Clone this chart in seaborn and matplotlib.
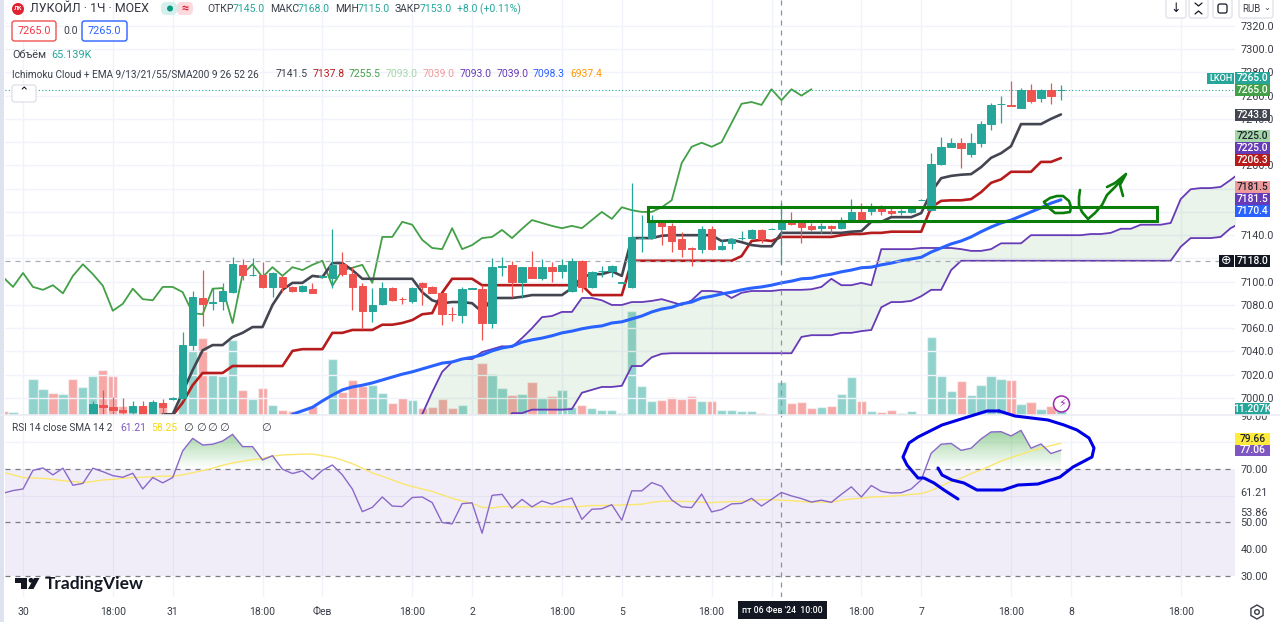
import numpy as np
import pandas as pd
import matplotlib
matplotlib.use('Agg')
import matplotlib.pyplot as plt
import seaborn as sns
from matplotlib.colors import LinearSegmentedColormap
from matplotlib.patches import Circle, FancyBboxPatch, PathPatch, Polygon, Rectangle
from matplotlib.path import Path

# hourly bars, index 0 is the bar under the "30" tick
opens = [6975, 6960, 6962, 6965, 6970, 6978, 6972, 6978, 6970,
         6977, 6994, 6992, 6990, 6988, 6993, 6985, 6996, 6999.5, 7000, 7046, 7086, 7082, 7083.5, 7091, 7114.5, 7105.5,
         7106, 7095.5, 7104, 7095.5, 7092, 7094, 7104, 7103, 7115, 7106.5, 7096.5, 7075, 7081, 7094.5, 7085.5, 7083.5,
         7099, 7095.5, 7090, 7072.5, 7071.5, 7094, 7093.5, 7064.5, 7113, 7114.5, 7100, 7112.5, 7103, 7112.5, 7109, 7092,
         7118, 7095.5, 7109, 7109, 7099, 7095.5, 7137.5, 7137.5, 7151, 7148, 7137, 7129, 7128, 7145, 7128, 7133, 7137.5,
         7137.5, 7144.5, 7145, 7145, 7151, 7150.5, 7148, 7146, 7148, 7146, 7153, 7160, 7161, 7163.5, 7161, 7160, 7160,
         7170, 7161.5, 7201, 7216, 7219.5, 7210, 7219.5, 7235.5, 7252.5, 7252, 7249.5, 7265, 7258, 7265, 7264.5]
highs = [6976, 6963, 6966, 6971, 6979, 6979, 6979, 6979, 6977,
         6997, 7007, 7001, 7000, 6997, 6997, 6998, 6999, 7000.5, 7057, 7092, 7110, 7095, 7099, 7121, 7119.5, 7120.5,
         7117, 7108, 7105, 7096, 7097, 7099, 7105, 7145, 7125.5, 7112.5, 7099, 7094.5, 7100, 7095.5, 7087, 7095.5,
         7099.5, 7096, 7090.5, 7078, 7095.5, 7095, 7097, 7120.5, 7121, 7118, 7113, 7126.5, 7119.5, 7117, 7119.5, 7120.5,
         7118.5, 7109, 7113.5, 7114, 7100, 7185, 7157.5, 7157.5, 7153, 7150.5, 7143, 7129.5, 7148, 7148, 7136, 7138,
         7143.5, 7145, 7145, 7146, 7168, 7160, 7151, 7150.5, 7150.5, 7148.5, 7155.5, 7171, 7167.5, 7167.5, 7166, 7164,
         7162.5, 7164, 7171, 7210.5, 7224.5, 7223.5, 7223.5, 7228, 7238, 7253.5, 7259.5, 7272.5, 7266.5, 7270, 7265.5,
         7271, 7269]
lows = [6969, 6959, 6961, 6964, 6969, 6971, 6971, 6969, 6969,
        6975, 6975, 6980, 6983, 6983, 6980, 6982, 6985, 6998, 6998, 7041, 7062, 7076, 7076, 7090, 7101.5, 7105,
        7095, 7087, 7091, 7091, 7091, 7090, 7103.5, 7094.5, 7105, 7075.5, 7059, 7065.5, 7080, 7083.5, 7081, 7082,
        7080, 7090, 7063, 7066, 7064.5, 7094, 7050, 7060, 7105, 7087, 7086, 7103, 7101.5, 7100, 7103, 7091,
        7091, 7095, 7104, 7104, 7099, 7094.5, 7125.5, 7137, 7131.5, 7125.5, 7121, 7113.5, 7124.5, 7127.5, 7127, 7128,
        7136, 7137, 7133, 7145, 7115, 7149, 7133, 7143.5, 7142, 7141, 7145.5, 7152.5, 7153, 7157.5, 7157.5, 7157.5,
        7157.5, 7159, 7170, 7161, 7200, 7215.5, 7198, 7207, 7216, 7230.5, 7236.5, 7251, 7249, 7253.5, 7254.5, 7253, 7256]
closes = [6970, 6962, 6965, 6970, 6978, 6972, 6978, 6970, 6976,
          6995, 6992, 6990, 6988, 6993, 6985, 6996.6, 6992, 7000, 7046, 7087, 7081, 7082.5, 7092, 7115, 7106, 7106,
          7095.5, 7107.5, 7095.5, 7092, 7096.5, 7090, 7104.5, 7114.5, 7106.5, 7095.5, 7075, 7080, 7094.5, 7084, 7085,
          7094.5, 7095.5, 7090, 7072, 7072, 7093.5, 7094.5, 7064.5, 7112.5, 7113.5, 7100, 7112.5, 7103, 7112.5, 7109,
          7114.5, 7118, 7095.5, 7108.5, 7109.5, 7113.5, 7099.5, 7138.5, 7138, 7153, 7148, 7135, 7128, 7128.5, 7145, 7128,
          7131, 7137, 7138, 7144.5, 7137, 7145.5, 7153, 7149.5, 7147, 7145.5, 7148, 7146, 7151, 7160, 7153, 7163.5, 7161,
          7159, 7160.5, 7163.5, 7170.5, 7201, 7216, 7219.5, 7215, 7219.5, 7235.5, 7252, 7253, 7251.5, 7265, 7255.5, 7265,
          7259.5, 7265]
volume_k = [8, 6, 2, 72, 52, 44, 42, 72, 56, 78, 90, 78, 18, 18, 18, 26, 24, 2, 80, 130, 154, 82, 78, 150, 50, 32, 54,
            20, 10, 8, 4, 18, 2, 112, 46, 70, 58, 60, 44, 24, 34, 30, 14, 16, 32, 14, 20, 2, 104, 82, 54, 40, 42, 66,
            34, 38, 50, 16, 20, 14, 10, 10, 4, 208, 58, 28, 30, 36, 32, 38, 28, 28, 10, 10, 8, 8, 4, 2, 65.139, 24, 26,
            14, 16, 18, 42, 76, 28, 8, 6, 10, 4, 8, 2, 156, 78, 48, 68, 40, 60, 78, 72, 70, 22, 26, 12, 18, 11.207]

lagging = [7104, 7095.5, 7107.5, 7095.5, 7093, 7097, 7090, 7105, 7115, 7106.5, 7096.5, 7075, 7081, 7094, 7085, 7084,
           7095.5, 7095.5, 7091, 7073, 7072, 7094, 7094.5, 7064.5, 7106.5, 7115, 7104, 7112.5, 7105, 7112.5, 7110,
           7114.5, 7118, 7096.5, 7110, 7112, 7114.5, 7099, 7138.5, 7138.5, 7151.5, 7149, 7136, 7129, 7128, 7146, 7128,
           7131.5, 7137.5, 7138.5, 7144.5, 7137.5, 7145.5, 7153, 7150.5, 7148, 7146, 7148, 7146, 7153, 7160, 7154, 7164,
           7161.5, 7160, 7160, 7164, 7170, 7202, 7216, 7219.5, 7216, 7220, 7236.5, 7253, 7254.5, 7252, 7265.5, 7256,
           7265.5, 7260, 7265.5]
tenkan = [6986, 6986, 7005, 7024, 7041, 7045.5, 7045.5, 7052.5, 7056, 7061, 7061, 7080, 7093, 7099, 7099, 7105, 7104,
          7116, 7116, 7110, 7102.5, 7102.5, 7102.5, 7102.5, 7102.5, 7102.5, 7091, 7084, 7081.5, 7082.5, 7082.5, 7081.5,
          7074, 7086, 7086, 7086, 7087, 7088.5, 7088.5, 7088.5, 7088.5, 7094.5, 7104, 7106.5, 7106.5, 7109, 7105, 7137.5,
          7137.5, 7137.5, 7139.5, 7140, 7140, 7140, 7140, 7140, 7135, 7136, 7134, 7131.5, 7130.5, 7130.5, 7142, 7142,
          7142, 7142, 7142, 7142, 7142, 7143, 7143.5, 7151.5, 7151.5, 7155.5, 7155.5, 7155.5, 7159, 7177, 7189, 7191,
          7192, 7192.5, 7198.5, 7206.5, 7210.5, 7216.5, 7235.5, 7235.5, 7235.5, 7240, 7243.8]
kijun = [6985, 6996, 7011, 7021.5, 7021.5, 7021.5, 7027.5, 7027.5, 7027.5, 7027.5, 7027.5, 7027.5, 7040.5, 7042, 7042,
         7042, 7056, 7056, 7058.5, 7058.5, 7058.5, 7063, 7063, 7064.5, 7067, 7072, 7073, 7090.5, 7102.5, 7102.5, 7102.5,
         7097, 7097, 7097, 7097, 7097, 7097, 7097, 7097, 7097, 7097, 7097, 7088.5, 7088.5, 7088.5, 7088.5, 7118, 7118,
         7118, 7118, 7118, 7118, 7118, 7118, 7118, 7118, 7118, 7122, 7135, 7136, 7135, 7138.5, 7138.5, 7138.5, 7138.5,
         7138.5, 7138.5, 7140, 7141, 7141, 7142, 7142, 7143, 7143, 7143, 7143, 7164, 7169.5, 7170, 7170, 7171, 7177,
         7185, 7188, 7194.5, 7194.5, 7194.5, 7203, 7203, 7206.3]
ema = [6986, 6989, 6992, 6997.5, 7002.5, 7007, 7009.5, 7011, 7013, 7015.5, 7018, 7020.5, 7022.5, 7025, 7027.5, 7030,
       7031, 7033.5, 7035, 7037, 7040.5, 7043, 7044.5, 7048, 7050, 7051.5, 7053.5, 7056, 7057.5, 7059.5, 7061, 7062,
       7064.5, 7065.5, 7068, 7070.5, 7074, 7076.5, 7078, 7081, 7082.5, 7086, 7087.5, 7089.5, 7091, 7093, 7094.5, 7095.5,
       7097, 7099, 7100.5, 7102.5, 7103, 7105, 7106.5, 7108.5, 7110, 7112, 7112.5, 7114.5, 7116, 7118, 7119.5, 7121,
       7125.5, 7129, 7132.5, 7135, 7138.5, 7143, 7147, 7150.5, 7153, 7156.5, 7160, 7163.5, 7167.5, 7170.4]
span_a = [6986, 7005, 7022.5, 7031, 7033.5, 7033.5, 7039.5, 7042, 7044.5, 7044, 7051.5, 7060, 7069.5, 7070.5, 7074, 7074,
          7086, 7086, 7084, 7080, 7080, 7082.5, 7082.5, 7083.5, 7085, 7082.5, 7080, 7084, 7092, 7092, 7091, 7086, 7090.5,
          7092, 7092, 7092, 7093, 7093, 7093, 7093.5, 7095.5, 7102.5, 7097, 7097, 7099, 7097, 7128, 7128, 7128, 7128,
          7129, 7129, 7129, 7129, 7128, 7126.5, 7126.5, 7128, 7133, 7133, 7133, 7140, 7140, 7140, 7140, 7140, 7140,
          7141, 7141, 7142, 7145.5, 7145.5, 7149, 7149, 7149, 7150.5, 7171, 7179.5, 7180.5, 7180.5, 7181.5, 7187.5, 7194]
span_b = [6975, 6975, 6975, 6975, 6975, 6975, 6975, 6975, 6975, 6987, 6987, 6990, 6990, 6990, 6990, 6990.5, 7004.5, 7007,
          7009.5, 7009.5, 7010.5, 7027.5, 7027.5, 7035, 7038, 7038.5, 7038.5, 7038.5, 7038.5, 7038.5, 7038.5, 7038.5,
          7038.5, 7038.5, 7038.5, 7038.5, 7038.5, 7038.5, 7052.5, 7054, 7054, 7054, 7056, 7056, 7057.5, 7058.5, 7078,
          7082.5, 7082.5, 7083.5, 7087.5, 7093, 7093, 7110, 7118, 7118, 7118, 7118, 7118, 7118, 7118, 7118, 7118, 7118,
          7118, 7118, 7118, 7118, 7118, 7118, 7118, 7118, 7118, 7118, 7118, 7118, 7130, 7137.5, 7137.5, 7137.5, 7138.5,
          7146, 7150.5]

rsi = [60.9, 61.9, 62.5, 69.5, 70.4, 67.8, 70.3, 63.9, 64.6, 70.3, 69, 67.5, 66.9, 68.4, 62.5, 66.8, 64.8, 66.8, 76.8,
       81.5, 79, 79.3, 80.5, 83, 78.4, 78.4, 73.4, 75, 69.9, 68.3, 69.3, 66.1, 69.5, 71.5, 67.8, 62.5, 54, 55.6, 59.5,
       56.1, 55.9, 59.3, 59.5, 57.4, 49.9, 49.4, 57, 57.3, 45.9, 60.1, 60.5, 55.3, 58.6, 55.8, 58, 56.8, 58.1, 59.1,
       51.1, 54.9, 55.1, 56.6, 50.8, 61.8, 61.8, 64.9, 63.5, 58.4, 55.8, 55.5, 60.6, 53.9, 54.8, 56.9, 57.1, 59, 56.1,
       58.6, 61.21, 59.9, 58.9, 57.6, 58.3, 57.5, 60.5, 63.3, 59.5, 63.8, 61.6, 61, 61.1, 62.5, 65.9, 75.9, 79.3, 79.6,
       77, 77.8, 81.3, 83.9, 84, 82.4, 84.5, 77.8, 79.4, 75.8, 77.06]
rsi_ma = [68.8, 67.8, 66.8, 66.6, 66.5, 66.1, 65.6, 65.3, 64.9, 65.3, 65.9, 66.1, 66.5, 66.8, 66.9, 67.1, 67.3, 67.3,
          67.8, 68.6, 69.4, 70.3, 71.4, 72.3, 72.9, 73.5, 74, 74.8, 75.3, 75.4, 75.6, 75.6, 75, 74.4, 73.3, 72, 70.3,
          68.5, 67.3, 65.9, 64.5, 63.4, 62.5, 61.6, 60.3, 59, 58, 57.1, 55.6, 55.4, 55.9, 55.9, 55.8, 55.8, 55.9, 55.8,
          55.8, 55.8, 56, 56.3, 56.3, 56.4, 56.5, 56.6, 56.8, 57.5, 57.9, 57.9, 57.8, 57.8, 57.5, 57.4, 57.6, 57.8, 57.8,
          58.1, 58.5, 58.5, 58.3, 58.1, 57.8, 57.5, 57.6, 57.5, 58.3, 58.8, 59, 59.5, 59.6, 59.8, 60.1, 60.5, 60.8, 61.9,
          63.6, 65.3, 66.5, 68.3, 69.6, 71.3, 73, 74.3, 75.5, 76.8, 77.8, 78.8, 79.66]

time_ticks = [0, 9, 15, 24, 30, 39, 45, 54, 60, 69, 75, 84, 90, 99, 105, 116]
time_labels = ['30', '18:00', '31', '18:00', 'Фев', '18:00', '2', '18:00', '5', '18:00', '', '18:00', '7', '18:00',
               '8', '18:00']
price_ticks = list(range(7000, 7321, 20))
# these four sit fully behind the coloured price tags in the screenshot
hidden_prices = [7120, 7160, 7180, 7220]
rsi_ticks = [30, 40, 50, 53.86, 61.21, 70, 90]
rsi_grid = [30, 40, 50, 60, 70, 80, 90]

# freehand marks on the screenshot, in pixels
scribble_ring_x = [1044, 1050, 1057, 1063, 1069, 1071, 1070, 1063, 1055, 1049, 1044]
scribble_ring_y = [202, 198, 196, 196, 201, 207, 212, 213, 213, 208, 202]
scribble_tick_x = [1080, 1079, 1079, 1082, 1088, 1095, 1102, 1107, 1115, 1123]
scribble_tick_y = [190, 197, 205, 212, 219, 213, 205, 195, 187, 178]
scribble_head_x = [1107, 1115, 1126, 1120, 1123]
scribble_head_y = [187, 183, 174, 185, 196]
circle_left_x = [999, 987, 958, 942, 932, 918, 909, 903, 907, 918, 924, 934, 944, 958]
circle_left_y = [411, 411, 420, 425, 430, 437, 443, 457, 465, 478, 478, 483, 490, 499]
circle_right_x = [938, 942, 952, 964, 977, 1003, 1018, 1038, 1060, 1073, 1092, 1094, 1089, 1077, 1064, 1048, 1015, 999]
circle_right_y = [468, 475, 480, 483, 490, 490, 485, 484, 477, 467, 457, 448, 438, 430, 425, 420, 416, 411]

TEAL = '#26a69a'
RED = '#ef5350'
PURPLE = '#673ab7'
GRID = '#f0f3fa'
TXT = '#3b3e48'

sns.set_theme(style='white')
plt.rcParams['font.family'] = ['Roboto', 'DejaVu Sans']
plt.rcParams['axes.unicode_minus'] = False

bars = pd.DataFrame({'bar': np.arange(-2, 105), 'open': opens, 'high': highs, 'low': lows, 'close': closes,
                     'volume': volume_k})
bars['up'] = bars['close'] >= bars['open']

W, H = 1280, 622
PANE_L, PANE_R, MAIN_B, RSI_B = 5, 1235, 415, 597
xlim = ((PANE_L - 23) / 9.98, (PANE_R - 23) / 9.98)

fig = plt.figure(figsize=(W / 100, H / 100), dpi=100, facecolor='white')
pane_w = (PANE_R - PANE_L) / W
ax_vol = fig.add_axes([PANE_L / W, (H - MAIN_B) / H, pane_w, MAIN_B / H])
ax = fig.add_axes([PANE_L / W, (H - MAIN_B) / H, pane_w, MAIN_B / H])
ax_rsi = fig.add_axes([PANE_L / W, (H - RSI_B) / H, pane_w, (RSI_B - MAIN_B) / H])
ax_vol.set_zorder(1)
ax.set_zorder(2)
ax.patch.set_visible(False)

# volume, 1 px is about 2K
sns.barplot(data=bars, x='bar', y='volume', hue='up', palette={True: TEAL, False: RED}, native_scale=True,
            dodge=False, width=0.92, alpha=0.5, saturation=1, legend=False, ax=ax_vol)
ax_vol.set_xlim(xlim)
ax_vol.set_ylim(0, 830)
ax_vol.set_axis_off()

# cloud
span_x = np.arange(40, 123)
ax.fill_between(span_x, span_a, span_b, color='#43a047', alpha=0.11, lw=0, zorder=1)
sns.lineplot(x=span_x, y=span_a, color=PURPLE, linewidth=1.3, estimator=None, ax=ax, zorder=2)
sns.lineplot(x=span_x, y=span_b, color=PURPLE, linewidth=1.3, estimator=None, ax=ax, zorder=2)

# ema, lagging span, conversion and base lines
sns.lineplot(x=np.arange(27, 105), y=ema, color='#2962ff', linewidth=2.2, estimator=None, ax=ax, zorder=3)
sns.lineplot(x=np.arange(-2, 80), y=lagging, color='#43a047', linewidth=1.3, estimator=None, ax=ax, zorder=3)
sns.lineplot(x=np.arange(15, 105), y=kijun, color='#b71c1c', linewidth=1.9, estimator=None, ax=ax, zorder=3)
sns.lineplot(x=np.arange(14, 105), y=tenkan, color='#434651', linewidth=1.9, estimator=None, ax=ax, zorder=3)

# candles
colors = bars['up'].map({True: TEAL, False: RED})
ax.vlines(bars['bar'], bars['low'], bars['high'], colors=colors, linewidth=0.9, zorder=4)
ax.bar(bars['bar'], bars['close'] - bars['open'], bottom=bars['open'], width=0.74, color=colors, edgecolor=colors,
       linewidth=0.7, zorder=5)

ax.axhline(7265, color=TEAL, lw=0.8, ls=(0, (1, 2)), zorder=3)
ax.axhline(7118, color='#a9acb4', lw=0.9, ls=(0, (4, 4)), zorder=3)
ax.axvline(76, color='#8f929b', lw=0.9, ls=(0, (4, 4)), zorder=3)

ax.set_xlim(xlim)
ax.set_ylim(7000 + (398 - MAIN_B) / 1.163, 7000 + 398 / 1.163)
ax.set_xticks(time_ticks)
ax.set_xticklabels([])
ax.yaxis.tick_right()
ax.set_yticks(price_ticks)
ax.set_yticklabels(['' if t in hidden_prices else f'{t:.1f}' for t in price_ticks], fontsize=7.8, color=TXT)
ax.tick_params(length=0, pad=4)
ax.set_axisbelow(True)
ax.grid(True, color=GRID, lw=1)
sns.despine(ax=ax, left=True, bottom=True, right=True, top=True)

# rsi pane
rsi_x = np.arange(-2, 105)
rsi_arr = np.array(rsi)
ax_rsi.axhspan(30, 70, color='#7e57c2', alpha=0.1, lw=0, zorder=1)
for level in [70, 50, 30]:
    ax_rsi.axhline(level, color='#787b86', lw=0.9, ls=(0, (4, 4)), zorder=2)
over = ax_rsi.fill_between(rsi_x, rsi_arr, 70, where=rsi_arr >= 70, interpolate=True, color='none', lw=0)
grad_cmap = LinearSegmentedColormap.from_list('over', [(0.30, 0.69, 0.31, 0.0), (0.30, 0.69, 0.31, 0.55)])
im = ax_rsi.imshow(np.linspace(1, 0, 64).reshape(-1, 1), extent=[xlim[0], xlim[1], 70, 85], aspect='auto',
                   cmap=grad_cmap, zorder=2)
im.set_clip_path(PathPatch(Path.make_compound_path(*over.get_paths()), transform=ax_rsi.transData))
sns.lineplot(x=rsi_x, y=rsi_ma, color='#fbe66e', linewidth=1.0, estimator=None, ax=ax_rsi, zorder=3)
sns.lineplot(x=rsi_x, y=rsi, color='#8a68c9', linewidth=1.0, estimator=None, ax=ax_rsi, zorder=4)
ax_rsi.axvline(76, color='#8f929b', lw=0.9, ls=(0, (4, 4)), zorder=3)

ax_rsi.set_xlim(xlim)
ax_rsi.set_ylim(70 - (RSI_B - 469) / 2.665, 70 + (469 - MAIN_B) / 2.665)
ax_rsi.set_xticks(time_ticks)
ax_rsi.set_xticklabels(time_labels, fontsize=7.5, color=TXT)
ax_rsi.yaxis.tick_right()
ax_rsi.set_yticks(rsi_ticks)
ax_rsi.set_yticklabels([f'{t:.2f}' for t in rsi_ticks], fontsize=7.8, color=TXT)
ax_rsi.set_yticks(rsi_grid, minor=True)
ax_rsi.tick_params(which='both', length=0, pad=4)
ax_rsi.tick_params(axis='x', pad=7)
ax_rsi.set_axisbelow(True)
ax_rsi.grid(True, axis='x', color=GRID, lw=1)
ax_rsi.grid(True, axis='y', which='minor', color=GRID, lw=1)
ax_rsi.grid(False, axis='y', which='major')
sns.despine(ax=ax_rsi, left=True, bottom=True, right=True, top=True)

# overlay in screen pixels for the screenshot furniture
top = fig.add_axes([0, 0, 1, 1], zorder=10)
top.set_xlim(0, W)
top.set_ylim(H, 0)
top.patch.set_visible(False)
top.set_axis_off()

top.add_patch(Rectangle((0, 0), 4, H, color='#dfe2ef', lw=0))
top.plot([0, W], [415, 415], color='#eceef3', lw=1.2)


def label(x, y, s, color=TXT, size=7.8, **kw):
    kw.setdefault('va', 'center')
    return top.text(x, y, s, color=color, fontsize=size, **kw)


def badge(y0, y1, s, fc, tc='white', x0=1235, x1=1270):
    top.add_patch(Rectangle((x0, y0), x1 - x0, y1 - y0, color=fc, lw=0))
    label((x0 + x1) / 2, (y0 + y1) / 2, s, color=tc, size=7.4, ha='center', weight='medium')


def button(x0, y0, x1, y1, edge='#e0e3eb'):
    top.add_patch(FancyBboxPatch((x0, y0), x1 - x0, y1 - y0, boxstyle='round,pad=0,rounding_size=2.5',
                                 fc='white', ec=edge, lw=1))


# header row
top.add_patch(Circle((18, 9), 6, color='#e0222e', lw=0))
label(18, 9, 'ЛК', color='white', size=4.5, ha='center', weight='bold')
label(30, 9, 'ЛУКОЙЛ · 1Ч · MOEX', color='#333640', size=8.9)
top.add_patch(FancyBboxPatch((161, 2), 16, 13, boxstyle='round,pad=0,rounding_size=5', fc='#d5f0ec', ec='none'))
top.add_patch(FancyBboxPatch((177, 2), 16, 13, boxstyle='round,pad=0,rounding_size=5', fc='#fbd9de', ec='none'))
top.add_patch(Circle((170, 8.5), 3, color='#089981', lw=0))
label(185, 8.5, '≈', color='#e0222e', size=9, ha='center', weight='bold')
for x, s, c in [(207, 'ОТКР', TXT), (233, '7145.0', TEAL), (270, 'МАКС', TXT), (298, '7168.0', TEAL),
                (335, 'МИН', TXT), (358, '7115.0', TEAL), (395, 'ЗАКР', TXT), (420, '7153.0', TEAL),
                (457, '+8.0 (+0.11%)', TEAL)]:
    label(x, 9, s, color=c, size=7.5)

button(12, 21, 56, 41, edge=RED)
label(34, 31, '7265.0', color='#f23645', ha='center')
label(63, 31, '0.0', size=7.5)
button(82, 21, 127, 41, edge='#2962ff')
label(104.5, 31, '7265.0', color='#2962ff', ha='center')
label(12, 55, 'Объём')
label(51, 55, '65.139K', color=TEAL)

label(12, 74, 'Ichimoku Cloud + EMA 9/13/21/55/SMA200 9 26 52 26', size=7.2)
for x, s, c in [(276, '7141.5', TXT), (313, '7137.8', '#b71c1c'), (349, '7255.5', '#43a047'),
                (386, '7093.0', '#a5d6a7'), (423, '7039.0', '#ef9a9a'), (460, '7093.0', PURPLE),
                (497, '7039.0', PURPLE), (533, '7098.3', '#2962ff'), (570, '6937.4', '#ff9800')]:
    label(x, 74, s, color=c, size=7.5)
button(12, 85, 36, 102)
label(24, 93, '⌃', size=9, ha='center', color='#131722')

# rsi legend
label(12, 428, 'RSI 14 close SMA 14 2', size=7.2)
label(120, 428, '61.21', color='#7e57c2', size=7.5)
label(151, 428, '58.25', color='#f5d90a', size=7.5)
for x in [183, 196, 207, 219, 261]:
    label(x, 428, '∅', size=8)

# top right controls
for x0, x1 in [(1166, 1186), (1189, 1208), (1213, 1232), (1239, 1273)]:
    button(x0, -2, x1, 18)
label(1176, 9, '↓', size=9, ha='center', color='#131722')
# the expand and fullscreen icons have no glyph in the installed fonts
top.plot([1195, 1198.5, 1202], [3, 6, 3], color='#131722', lw=0.9)
top.plot([1195, 1198.5, 1202], [14, 11, 14], color='#131722', lw=0.9)
top.add_patch(FancyBboxPatch((1218, 4), 9, 9, boxstyle='round,pad=0,rounding_size=2', fc='none', ec='#131722', lw=0.9))
label(1242, 9, 'RUB', size=7)
label(1267, 8, '⌄', size=6, ha='center')

# price badges
top.add_patch(Rectangle((1207, 73), 27, 11, color=TEAL, lw=0))
label(1220.5, 78.5, 'LKOH', color='white', size=6.6, ha='center', weight='medium')
badge(72, 84, '7265.0', TEAL)
badge(84, 96, '7265.0', '#43a047')
badge(109, 121, '7243.8', '#434651')
badge(130, 142, '7225.0', '#a5d6a7', tc='#1f2430')
badge(142, 154, '7225.0', PURPLE)
badge(154, 166, '7206.3', '#b71c1c')
badge(181, 193, '7181.5', '#ef9a9a', tc='#1f2430')
badge(193, 205, '7181.5', PURPLE)
badge(205, 217, '7170.4', '#2962ff')
badge(255, 267, '7118.0', '#131722')
top.add_patch(Rectangle((1219, 255), 15, 12, color='#131722', lw=0))
label(1226.5, 261, '⊕', color='white', size=9, ha='center')
badge(403, 415, '11.207K', TEAL)
badge(433, 444.5, '79.66', '#ffeb3b', tc='#1f2430')
badge(444.5, 456, '77.06', '#7e57c2')

# crosshair date
top.add_patch(Rectangle((738, 601), 89, 18, color='#131722', lw=0))
label(782.5, 610.5, "пт 06 Фев '24  10:00", color='white', size=6.3, ha='center', weight='medium')

# alert icon and settings
top.add_patch(Circle((1061.5, 404), 8, fc='white', ec='#9c27b0', lw=1.1))
label(1061.5, 404, '⚡', color='#9c27b0', size=8, ha='center')
hex_t = np.deg2rad([30, 90, 150, 210, 270, 330])
top.add_patch(Polygon(np.c_[1257 + 7 * np.cos(hex_t), 612 + 7 * np.sin(hex_t)], fc='white', ec='#3b3e48', lw=1))
top.add_patch(Circle((1257, 612), 2.3, fc='white', ec='#3b3e48', lw=1))

# TradingView mark
top.add_patch(Rectangle((15, 578), 12, 4.5, color='#131722', lw=0))
top.add_patch(Rectangle((20.5, 578), 6.5, 11, color='#131722', lw=0))
top.add_patch(Circle((31, 580.3), 2.4, color='#131722', lw=0))
top.add_patch(Polygon([(34, 578), (39.5, 578), (33.5, 589), (28, 589)], color='#131722', lw=0))
label(45, 584, 'TradingView', color='#131722', size=12.5, family=['Lato', 'DejaVu Sans'], weight='bold')

# freehand drawing on top of the chart
top.add_patch(Rectangle((648, 207), 509, 14, fc='none', ec='#0a7d0a', lw=2.2))
for xs, ys in [(scribble_ring_x, scribble_ring_y), (scribble_tick_x, scribble_tick_y),
               (scribble_head_x, scribble_head_y)]:
    top.plot(xs, ys, color='#0a7d0a', lw=1.9, solid_capstyle='round', solid_joinstyle='round')
for xs, ys in [(circle_left_x, circle_left_y), (circle_right_x, circle_right_y)]:
    top.plot(xs, ys, color='#0000e6', lw=2.2, solid_capstyle='round', solid_joinstyle='round')

top.set_xlim(0, W)
top.set_ylim(H, 0)
fig.savefig('out.png', dpi=100)
